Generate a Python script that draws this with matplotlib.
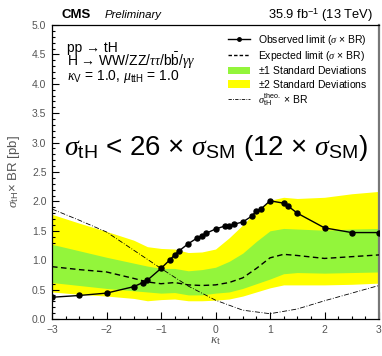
import matplotlib
matplotlib.use("Agg")
import matplotlib.pyplot as plt
from matplotlib.lines import Line2D
from matplotlib.patches import Patch
from matplotlib.ticker import MultipleLocator

plt.rcParams["font.family"] = ["Liberation Sans", "DejaVu Sans"]
plt.rcParams["mathtext.fontset"] = "custom"
plt.rcParams["mathtext.rm"] = "Liberation Sans"
plt.rcParams["mathtext.sf"] = "Liberation Sans"
plt.rcParams["mathtext.it"] = "Liberation Serif:italic"
plt.rcParams["mathtext.bf"] = "Liberation Sans:bold"

# Observed limit on sigma x BR versus kappa_t
kt_obs = [-3, -2.5, -2, -1.5, -1.333, -1.25, -1, -0.833, -0.75, -0.667, -0.5,
          -0.333, -0.25, -0.167, 0, 0.167, 0.25, 0.333, 0.5, 0.667, 0.75, 0.833,
          1.0, 1.25, 1.333, 1.5, 2, 2.5, 3]
obs = [0.37, 0.40, 0.44, 0.55, 0.62, 0.66, 0.86, 1.01, 1.09, 1.16, 1.28,
       1.38, 1.42, 1.46, 1.53, 1.58, 1.58, 1.61, 1.65, 1.75, 1.84, 1.87,
       2.01, 1.97, 1.92, 1.80, 1.55, 1.47, 1.47]

# Expected limit with its +-1 and +-2 standard deviation bands
kt_exp = [-3, -2.5, -2, -1.5, -1.25, -1, -0.75, -0.5, -0.25, 0, 0.25, 0.5,
          0.75, 1.0, 1.25, 1.5, 2, 2.5, 3]
exp = [0.89, 0.84, 0.80, 0.69, 0.63, 0.60, 0.62, 0.58, 0.57, 0.58, 0.62, 0.70,
       0.86, 1.04, 1.10, 1.08, 1.03, 1.06, 1.09]
one_lo = [0.62, 0.57, 0.52, 0.48, 0.46, 0.44, 0.45, 0.41, 0.41, 0.44, 0.46, 0.52,
          0.60, 0.68, 0.77, 0.79, 0.78, 0.79, 0.80]
one_hi = [1.27, 1.16, 1.05, 0.95, 0.90, 0.86, 0.86, 0.82, 0.84, 0.88, 0.98, 1.12,
          1.32, 1.50, 1.54, 1.53, 1.51, 1.53, 1.54]
two_lo = [0.46, 0.42, 0.39, 0.35, 0.31, 0.33, 0.34, 0.31, 0.31, 0.32, 0.34, 0.39,
          0.46, 0.53, 0.58, 0.58, 0.58, 0.59, 0.61]
two_hi = [1.78, 1.63, 1.49, 1.34, 1.23, 1.20, 1.19, 1.13, 1.14, 1.19, 1.38, 1.60,
          1.84, 2.02, 2.07, 2.05, 2.07, 2.13, 2.17]

# Theoretical tH cross section times BR
kt_th = [-3, -2.5, -2, -1.5, -1, -0.5, 0, 0.5, 1, 1.5, 2, 2.5, 3]
theo = [1.87, 1.68, 1.48, 1.17, 0.86, 0.56, 0.32, 0.15, 0.09, 0.17, 0.31, 0.44, 0.57]

xticks = [-3, -2, -1, 0, 1, 2, 3]
yticks = [0.0, 0.5, 1.0, 1.5, 2.0, 2.5, 3.0, 3.5, 4.0, 4.5, 5.0]

GREEN = "#93f53b"
YELLOW = "#ffff00"
GREY = "#555555"

fig = plt.figure(figsize=(3.82, 3.56), dpi=100)
ax = fig.add_axes([52 / 382, 37 / 356, 327 / 382, 294 / 356])

ax.fill_between(kt_exp, two_lo, two_hi, color=YELLOW, lw=0, zorder=1)
ax.fill_between(kt_exp, one_lo, one_hi, color=GREEN, lw=0, zorder=2)
ax.plot(kt_exp, exp, color="black", lw=1.0, ls=(0, (4, 2.5)), zorder=3)
ax.plot(kt_th, theo, color="black", lw=0.6, ls=(0, (6, 2, 1, 2)), zorder=3)
ax.plot(kt_obs, obs, color="black", lw=1.0, marker="o", ms=3.6, zorder=4)

ax.set_xlim(-3, 3)
ax.set_ylim(0, 5)
ax.set_xticks(xticks)
ax.set_yticks(yticks)
ax.set_xticklabels(["\u2212%d" % -v if v < 0 else "%d" % v for v in xticks])
ax.set_yticklabels(["%.1f" % v for v in yticks])
ax.xaxis.set_minor_locator(MultipleLocator(0.25))
ax.yaxis.set_minor_locator(MultipleLocator(0.1))
ax.tick_params(which="both", direction="in", top=False, right=False,
               labelsize=7.5, labelcolor=GREY, width=0.8)
ax.tick_params(which="major", length=5)
ax.tick_params(which="minor", length=2.5)
ax.tick_params(axis="x", pad=4)
ax.tick_params(axis="y", pad=4)
for s in ax.spines.values():
    s.set_linewidth(0.9)
ax.spines["right"].set_color("#777777")
ax.spines["right"].set_linewidth(1.6)

ax.set_xlabel(r"$\kappa_{\mathrm{t}}$", fontsize=9.5, color=GREY)
ax.xaxis.set_label_coords(0.5, -0.075)
ax.xaxis.label.set_va("center")
ax.set_ylabel(r"$\sigma_{\mathrm{tH}}$$\times$ BR [pb]", fontsize=9.5, color=GREY)
ax.yaxis.set_label_coords(-0.116, 0.5)
ax.yaxis.label.set_va("center")

# Header
fig.text(62 / 382, 1 - 15 / 356, "CMS", fontsize=9.5, fontweight="bold",
         ha="left", va="center")
fig.text(105 / 382, 1 - 15 / 356, "Preliminary", fontsize=8.2, style="italic",
         ha="left", va="center")
fig.text(373 / 382, 1 - 15 / 356, r"35.9 fb$^{-1}$ (13 TeV)", fontsize=9.3,
         ha="right", va="center")

# Process description
ax.text(0.045, (319 - 41) / 294,
        "pp \u2192 tH\n"
        "H \u2192 WW/ZZ/$\\tau\\tau$/b$\\bar{\\mathrm{b}}$/$\\gamma\\gamma$\n"
        "$\\kappa_{\\mathrm{V}}$ = 1.0, $\\mu_{\\mathrm{ttH}}$ = 1.0",
        fontsize=10, transform=ax.transAxes, va="top", linespacing=0.72)

ax.text(0.5, (319 - 148) / 294,
        r"$\sigma_{\mathrm{tH}}$ < 26 $\times$ $\sigma_{\mathrm{SM}}$ (12 $\times$ $\sigma_{\mathrm{SM}}$)",
        fontsize=20, transform=ax.transAxes, ha="center", va="center")

handles = [
    Line2D([], [], color="black", lw=1.0, marker="o", ms=2.5),
    Line2D([], [], color="black", lw=1.0, ls=(0, (2.5, 1.5))),
    Patch(facecolor=GREEN, edgecolor="none"),
    Patch(facecolor=YELLOW, edgecolor="none"),
    Line2D([], [], color="black", lw=0.6, ls=(0, (4, 1.5, 1, 1.5))),
]
labels = [
    r"Observed limit ($\sigma$ $\times$ BR)",
    r"Expected limit ($\sigma$ $\times$ BR)",
    r"$\pm$1 Standard Deviations",
    r"$\pm$2 Standard Deviations",
    r"$\sigma^{\mathrm{theo.}}_{\mathrm{tH}}$ $\times$ BR",
]
leg = ax.legend(handles, labels, loc="upper left",
                bbox_to_anchor=((228 - 52) / 327, (319 - 33) / 294),
                frameon=False, fontsize=7.5, handlelength=2.1,
                handleheight=0.8, handletextpad=0.8, labelspacing=0.15,
                borderpad=0, borderaxespad=0)

fig.savefig("out.png", dpi=100)
